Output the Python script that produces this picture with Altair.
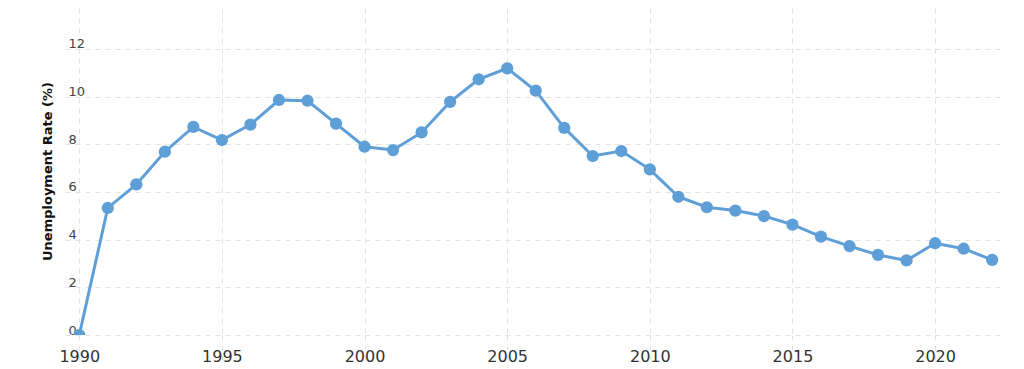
import altair as alt
import pandas as pd

years = list(range(1990, 2023))
rates = [0.0, 5.33, 6.32, 7.69, 8.73, 8.18, 8.83, 9.86, 9.83, 8.87,
         7.90, 7.76, 8.50, 9.78, 10.73, 11.19, 10.25, 8.69, 7.51, 7.72,
         6.95, 5.80, 5.36, 5.22, 4.99, 4.63, 4.13, 3.73, 3.36, 3.13,
         3.85, 3.62, 3.15]
x_ticks = [1990, 1995, 2000, 2005, 2010, 2015, 2020]
y_ticks = [0, 2, 4, 6, 8, 10, 12, 14]

df = pd.DataFrame({"year": years, "rate": rates})

color = "#5f9fd8"
grid = "#e2e2e2"

x = alt.X("year:Q", scale=alt.Scale(domain=[1989.5, 2022.45], nice=False, zero=False),
          axis=alt.Axis(values=x_ticks, format="d", title=None, domain=False,
                        grid=True, gridColor=grid, gridDash=[5, 5], gridWidth=1,
                        ticks=True, tickSize=30, tickColor=grid, tickDash=[5, 5],
                        labelPadding=-17, labelFontSize=16, labelColor="#333333",
                        labelFont="DejaVu Sans"))
y = alt.Y("rate:Q", scale=alt.Scale(domain=[0, 13.72], nice=False),
          axis=alt.Axis(values=y_ticks, title="Unemployment Rate (%)", domain=False,
                        grid=True, gridColor=grid, gridDash=[5, 5], gridWidth=1,
                        ticks=False, labelAlign="left", labelPadding=-3,
                        labelBaseline="alphabetic", labelOffset=-1,
                        labelFontSize=13, labelColor="#444444", labelFont="DejaVu Sans",
                        titleFont="DejaVu Sans", titleFontSize=13, titleFontWeight="bold",
                        titleColor="#111111", titleX=-18, titleY=163,
                        titleAlign="center", titleBaseline="middle", titleAngle=270))

base = alt.Chart(df).encode(x=x, y=y)
line = base.mark_line(color=color, strokeWidth=3, clip=True)
pts = base.mark_circle(color=color, size=150, opacity=1, clip=True)

chart = (line + pts).properties(
    width=940, height=327,
    autosize=alt.AutoSizeParams(type="none"),
    padding={"left": 57, "top": 0, "right": 10, "bottom": 34},
).configure_view(stroke=None)

chart.save("out.html", embed_options={"renderer": "svg", "actions": False})
